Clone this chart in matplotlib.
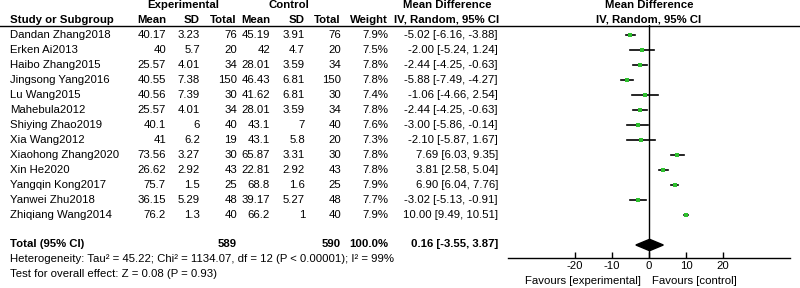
import matplotlib
matplotlib.use("Agg")
import matplotlib.pyplot as plt
from matplotlib.patches import Polygon

plt.rcParams['font.family'] = ['Liberation Sans', 'DejaVu Sans']

studies = ["Dandan Zhang2018", "Erken Ai2013", "Haibo Zhang2015", "Jingsong Yang2016",
           "Lu Wang2015", "Mahebula2012", "Shiying Zhao2019", "Xia Wang2012",
           "Xiaohong Zhang2020", "Xin He2020", "Yangqin Kong2017", "Yanwei Zhu2018",
           "Zhiqiang Wang2014"]
exp_mean = ["40.17", "40", "25.57", "40.55", "40.56", "25.57", "40.1", "41", "73.56", "26.62", "75.7", "36.15", "76.2"]
exp_sd = ["3.23", "5.7", "4.01", "7.38", "7.39", "4.01", "6", "6.2", "3.27", "2.92", "1.5", "5.29", "1.3"]
exp_n = [76, 20, 34, 150, 30, 34, 40, 19, 30, 43, 25, 48, 40]
ctl_mean = ["45.19", "42", "28.01", "46.43", "41.62", "28.01", "43.1", "43.1", "65.87", "22.81", "68.8", "39.17", "66.2"]
ctl_sd = ["3.91", "4.7", "3.59", "6.81", "6.81", "3.59", "7", "5.8", "3.31", "2.92", "1.6", "5.27", "1"]
ctl_n = [76, 20, 34, 150, 30, 34, 40, 20, 30, 43, 25, 48, 40]
weights = [7.9, 7.5, 7.8, 7.8, 7.4, 7.8, 7.6, 7.3, 7.8, 7.8, 7.9, 7.7, 7.9]
md = [-5.02, -2.00, -2.44, -5.88, -1.06, -2.44, -3.00, -2.10, 7.69, 3.81, 6.90, -3.02, 10.00]
ci_lo = [-6.16, -5.24, -4.25, -7.49, -4.66, -4.25, -5.86, -5.87, 6.03, 2.58, 6.04, -5.13, 9.49]
ci_hi = [-3.88, 1.24, -0.63, -4.27, 2.54, -0.63, -0.14, 1.67, 9.35, 5.04, 7.76, -0.91, 10.51]

total_exp = 589
total_ctl = 590
total_weight = 100.0
pooled_md, pooled_lo, pooled_hi = 0.16, -3.55, 3.87
heterogeneity = "Heterogeneity: Tau\u00b2 = 45.22; Chi\u00b2 = 1134.07, df = 12 (P < 0.00001); I\u00b2 = 99%"
overall = "Test for overall effect: Z = 0.08 (P = 0.93)"
xticks = [-20, -10, 0, 10, 20]

FS = 8.2
W, H = 800, 288
fig = plt.figure(figsize=(W / 100, H / 100), dpi=100)
ax = fig.add_axes([0, 0, 1, 1])
ax.set_xlim(0, W)
ax.set_ylim(H, 0)
ax.axis('off')

row0, dy = 35, 15
def ry(i):
    return row0 + dy * i

# headers
hb = dict(fontsize=FS, fontweight='bold', va='center')
ax.text(183, 5, "Experimental", ha='center', **hb)
ax.text(289, 5, "Control", ha='center', **hb)
ax.text(447, 5, "Mean Difference", ha='center', **hb)
ax.text(649, 5, "Mean Difference", ha='center', **hb)
ax.text(10, 20, "Study or Subgroup", ha='left', **hb)
cols = [(166, "Mean"), (200, "SD"), (237, "Total"), (270, "Mean"), (305, "SD"), (341, "Total"), (388, "Weight")]
for x, t in cols:
    ax.text(x, 20, t, ha='right', **hb)
ax.text(447, 20, "IV, Random, 95% CI", ha='center', **hb)
ax.text(649, 20, "IV, Random, 95% CI", ha='center', **hb)
ax.plot([0, W], [25.5, 25.5], color='black', lw=1)

tn = dict(fontsize=FS, va='center')
for i, s in enumerate(studies):
    y = ry(i)
    ax.text(10, y, s, ha='left', **tn)
    ax.text(166, y, exp_mean[i], ha='right', **tn)
    ax.text(200, y, exp_sd[i], ha='right', **tn)
    ax.text(237, y, str(exp_n[i]), ha='right', **tn)
    ax.text(270, y, ctl_mean[i], ha='right', **tn)
    ax.text(305, y, ctl_sd[i], ha='right', **tn)
    ax.text(341, y, str(ctl_n[i]), ha='right', **tn)
    ax.text(388, y, f"{weights[i]:.1f}%", ha='right', **tn)
    ax.text(498, y, f"{md[i]:.2f} [{ci_lo[i]:.2f}, {ci_hi[i]:.2f}]", ha='right', **tn)

n = len(studies)
yt = ry(n + 1) - 1
ax.text(10, yt, "Total (95% CI)", ha='left', **hb)
ax.text(237, yt, str(total_exp), ha='right', **hb)
ax.text(341, yt, str(total_ctl), ha='right', **hb)
ax.text(388, yt, f"{total_weight:.1f}%", ha='right', **hb)
ax.text(498, yt, f"{pooled_md:.2f} [{pooled_lo:.2f}, {pooled_hi:.2f}]", ha='right', **hb)
ax.text(10, 259, heterogeneity, ha='left', **tn)
ax.text(10, 274, overall, ha='left', **tn)

# forest axes
px_per_unit = 3.7
x0px, x1px, zero_px = 508, 790, 649
top_px, bot_px = 25, 258
fx = fig.add_axes([x0px / W, (H - bot_px) / H, (x1px - x0px) / W, (bot_px - top_px) / H])
fx.set_xlim((x0px - zero_px) / px_per_unit, (x1px - zero_px) / px_per_unit)
fx.set_ylim((bot_px - row0) / dy, (top_px - row0) / dy)
fx.patch.set_alpha(0)
for sp in ['top', 'right', 'left']:
    fx.spines[sp].set_visible(False)
fx.spines['bottom'].set_linewidth(1)
fx.set_yticks([])
fx.set_xticks(xticks)
fx.set_xticklabels([str(v) for v in xticks], fontsize=FS)
fx.tick_params(axis='x', direction='in', length=4, width=1, pad=2)
fx.axvline(0, color='black', lw=1)

for i in range(n):
    fx.plot([ci_lo[i], ci_hi[i]], [i, i], color='black', lw=1.2, zorder=2)
    fx.plot(md[i], i, marker='s', color='#2ec02e', markersize=weights[i] * 0.42,
            markeredgewidth=0, zorder=3)

pd_y = n + 1
diamond = Polygon([[pooled_lo, pd_y], [pooled_md, pd_y - 0.38], [pooled_hi, pd_y], [pooled_md, pd_y + 0.38]],
                  closed=True, facecolor='black', edgecolor='black')
fx.add_patch(diamond)

ax.text(641, 281, "Favours [experimental]", ha='right', **tn)
ax.text(652, 281, "Favours [control]", ha='left', **tn)

fig.savefig("out.png", dpi=100)
